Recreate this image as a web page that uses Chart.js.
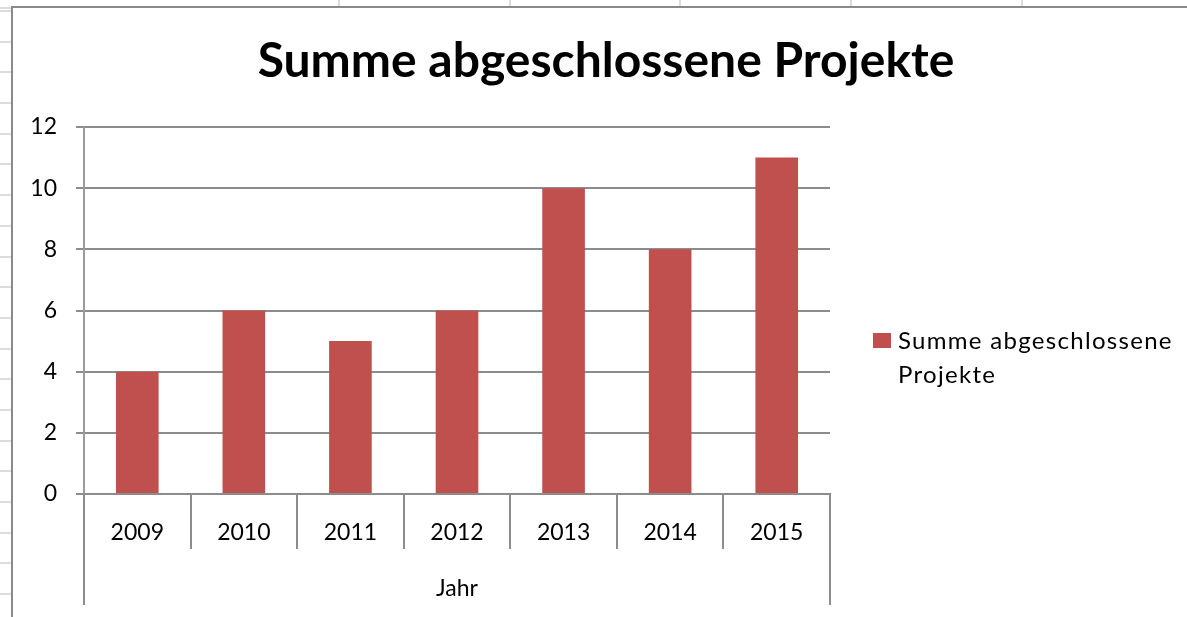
<!DOCTYPE html>
<html>
<head>
<meta charset="utf-8">
<script src="https://cdn.jsdelivr.net/npm/chart.js@4.4.1/dist/chart.umd.min.js"></script>
<style>
  html, body { margin:0; padding:0; background:#fff; width:1187px; height:617px; overflow:hidden; }
  #sheetLeft { position:absolute; left:0; top:0; width:11px; height:617px;
    background: repeating-linear-gradient(to bottom, #dcdcdc 0px, #dcdcdc 2px, transparent 2px, transparent 30.69px);
    background-position: 0 10px; }
  .vline { position:absolute; top:0; width:2px; height:6px; background:#dcdcdc; }
  #frameTop { position:absolute; left:11px; top:6px; width:1176px; height:2px; background:#8a8a8a; }
  #frameLeft { position:absolute; left:11px; top:6px; width:2px; height:611px; background:#8a8a8a; }
  #c { position:absolute; left:0; top:0; }
</style>
</head>
<body>
<div id="sheetLeft"></div>
<div class="vline" style="left:338px"></div>
<div class="vline" style="left:509px"></div>
<div class="vline" style="left:679px"></div>
<div class="vline" style="left:850px"></div>
<div class="vline" style="left:1021px"></div>
<div id="frameTop"></div>
<div id="frameLeft"></div>
<canvas id="c" width="1187" height="617"></canvas>
<script>
const chartTitle = 'Summe abgeschlossene Projekte';
const seriesLabel = 'Summe abgeschlossene Projekte';
const legendLines = ['Summe abgeschlossene', 'Projekte'];
const axisTitle = 'Jahr';
const categories = ['2009', '2010', '2011', '2012', '2013', '2014', '2015'];
const projectCounts = [4, 6, 5, 6, 10, 8, 11];
const yTickValues = [0, 2, 4, 6, 8, 10, 12];

const GRID = '#8c8c8c';
const BAR = '#C0504D';
const FONT = 'Lato';

const edgeLines = {
  id: 'edgeLines',
  afterDraw(chart) {
    const x = chart.scales.x;
    const ctx = chart.ctx;
    ctx.save();
    ctx.strokeStyle = GRID;
    ctx.lineWidth = 2;
    ctx.beginPath();
    [x.left, x.right].forEach(px => {
      const p = Math.round(px);
      ctx.moveTo(p, x.top);
      ctx.lineTo(p, x.top + 111);
    });
    ctx.stroke();
    ctx.restore();
  }
};

const sideLegend = {
  id: 'sideLegend',
  afterDraw(chart) {
    const ctx = chart.ctx;
    const area = chart.chartArea;
    const ds = chart.data.datasets[0];
    const x0 = area.right + 43;
    const y0 = area.top + 206;
    ctx.save();
    ctx.fillStyle = ds.backgroundColor;
    ctx.fillRect(x0, y0, 18, 15);
    ctx.fillStyle = '#000';
    ctx.font = '24px ' + FONT;
    ctx.textBaseline = 'middle';
    ctx.textAlign = 'left';
    ctx.letterSpacing = '1.3px';
    legendLines.forEach((t, i) => ctx.fillText(t, x0 + 25, y0 + 8 + i * 34));
    ctx.restore();
  }
};

new Chart(document.getElementById('c'), {
  type: 'bar',
  data: {
    labels: categories,
    datasets: [{
      label: seriesLabel,
      data: projectCounts,
      backgroundColor: BAR,
      borderWidth: 0,
      barPercentage: 0.4,
      categoryPercentage: 1
    }]
  },
  options: {
    responsive: false,
    animation: false,
    layout: { padding: { left: 25, right: 0, top: 0, bottom: 0 } },
    plugins: {
      legend: { display: false },
      tooltip: { enabled: false },
      title: {
        display: true,
        text: chartTitle,
        color: '#000',
        font: { family: FONT, size: 48, weight: 'bold', lineHeight: 1.25 },
        padding: { top: 32, bottom: 35 }
      }
    },
    scales: {
      x: {
        grid: { display: true, drawOnChartArea: false, drawTicks: true, tickLength: 55, color: GRID, lineWidth: 2, offset: true },
        border: { display: true, color: GRID, width: 2 },
        ticks: { color: '#000', font: { family: FONT, size: 23 }, padding: -30, maxRotation: 0 },
        title: { display: true, text: axisTitle, color: '#000', font: { family: FONT, size: 23 }, padding: { top: 15, bottom: 15 } },
        afterFit(s) { s.height = 123; }
      },
      y: {
        min: 0,
        max: 12,
        afterBuildTicks(s) { s.ticks = yTickValues.map(v => ({ value: v })); },
        ticks: { color: '#000', font: { family: FONT, size: 23 }, padding: 19 },
        grid: { color: GRID, lineWidth: 2, tickLength: 8, drawTicks: true },
        border: { display: true, color: '#9a9a9a', width: 2 },
        afterFit(s) { s.width = 59; }
      },
      legendSpace: {
        type: 'linear',
        position: 'right',
        display: true,
        grid: { display: false, drawTicks: false },
        border: { display: false },
        ticks: { display: false },
        afterFit(s) { s.width = 357; }
      }
    }
  },
  plugins: [edgeLines, sideLegend]
});
</script>
</body>
</html>
